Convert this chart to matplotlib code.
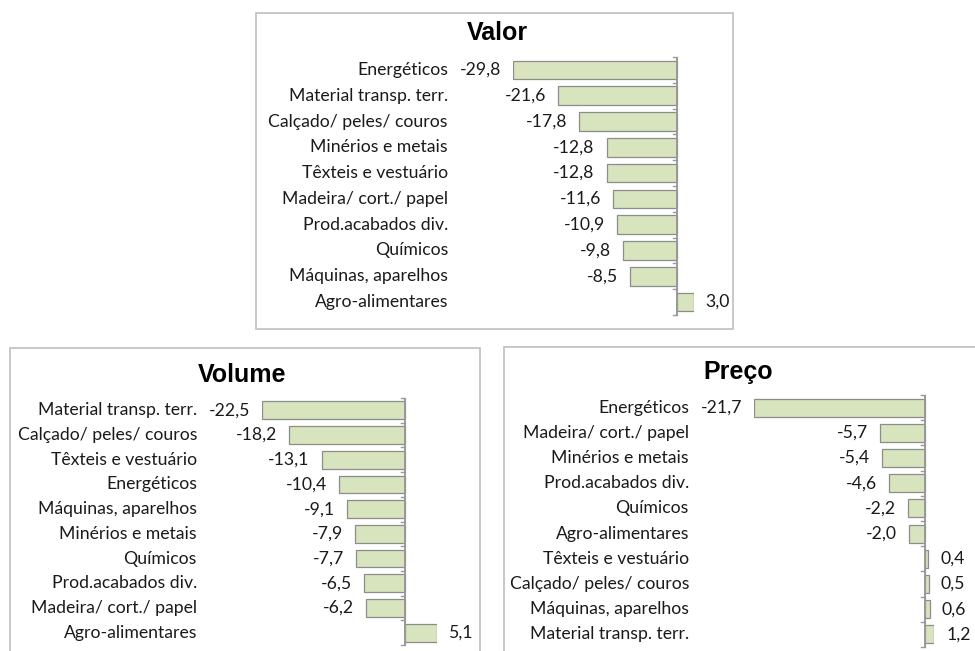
import matplotlib.pyplot as plt
from matplotlib.patches import Rectangle
from matplotlib.transforms import blended_transform_factory

# Valor
valor_cats = ["Energéticos", "Material transp. terr.", "Calçado/ peles/ couros",
              "Minérios e metais", "Têxteis e vestuário", "Madeira/ cort./ papel",
              "Prod.acabados div.", "Químicos", "Máquinas, aparelhos", "Agro-alimentares"]
valor_vals = [-29.8, -21.6, -17.8, -12.8, -12.8, -11.6, -10.9, -9.8, -8.5, 3.0]

# Volume
volume_cats = ["Material transp. terr.", "Calçado/ peles/ couros", "Têxteis e vestuário",
               "Energéticos", "Máquinas, aparelhos", "Minérios e metais", "Químicos",
               "Prod.acabados div.", "Madeira/ cort./ papel", "Agro-alimentares"]
volume_vals = [-22.5, -18.2, -13.1, -10.4, -9.1, -7.9, -7.7, -6.5, -6.2, 5.1]

# Preço
preco_cats = ["Energéticos", "Madeira/ cort./ papel", "Minérios e metais",
              "Prod.acabados div.", "Químicos", "Agro-alimentares", "Têxteis e vestuário",
              "Calçado/ peles/ couros", "Máquinas, aparelhos", "Material transp. terr."]
preco_vals = [-21.7, -5.7, -5.4, -4.6, -2.2, -2.0, 0.4, 0.5, 0.6, 1.2]

W, H = 975, 651
BAR = "#d7e4bd"
EDGE = "#8c8c8c"
BOX = "#bfbfbf"
LABEL_FONT = ["Lato", "DejaVu Sans"]
TITLE_FONT = ["Liberation Sans", "DejaVu Sans"]
FS = 12.7

fig = plt.figure(figsize=(W / 100, H / 100), dpi=100)


def box(x0, y0, x1, y1):
    fig.patches.append(Rectangle((x0 / W, 1 - y1 / H), (x1 - x0) / W, (y1 - y0) / H,
                                 transform=fig.transFigure, fill=False,
                                 edgecolor=BOX, linewidth=1.2))


def panel(cats, vals, title, zero_px, scale, top_px, row_h, label_px, title_xy):
    lo, hi = min(vals), max(vals)
    x0 = zero_px + lo * scale
    x1 = zero_px + hi * scale
    n = len(cats)
    y0 = top_px
    y1 = top_px + n * row_h
    ax = fig.add_axes([x0 / W, 1 - y1 / H, (x1 - x0) / W, (y1 - y0) / H])
    ax.set_xlim(lo, hi)
    ax.set_ylim(n - 0.5, -0.5)
    pos = list(range(n))
    ax.barh(pos, vals, height=0.72, color=BAR, edgecolor=EDGE, linewidth=0.9)
    ax.axvline(0, color="#999999", linewidth=1.4, zorder=3)
    for b in range(n + 1):
        ax.plot([0, -4 / scale], [b - 0.5, b - 0.5], color="#999999",
                linewidth=1.0, clip_on=False, zorder=3)
    for s in ax.spines.values():
        s.set_visible(False)
    ax.set_xticks([])
    ax.set_yticks([])
    ax.patch.set_alpha(0)
    gap = 12 / scale
    for p, v in zip(pos, vals):
        lab = f"{v:.1f}".replace(".", ",")
        if v < 0:
            ax.text(v - gap, p, lab, ha="right", va="center", fontsize=FS,
                    family=LABEL_FONT, color="#1a1a1a")
        else:
            ax.text(v + gap, p, lab, ha="left", va="center", fontsize=FS,
                    family=LABEL_FONT, color="#1a1a1a")
    tr = blended_transform_factory(fig.transFigure, ax.transData)
    for p, c in zip(pos, cats):
        ax.text(label_px / W, p, c, transform=tr, ha="right", va="center",
                fontsize=FS, family=LABEL_FONT, color="#1a1a1a")
    fig.text(title_xy[0] / W, 1 - title_xy[1] / H, title, ha="center", va="center",
             fontsize=18, fontweight="bold", family=TITLE_FONT)


box(256, 13, 733, 329)
box(10, 348, 480, 660)
box(504, 347, 990, 660)

panel(valor_cats, valor_vals, "Valor", 677, 5.5, 57, 25.8, 448, (497, 33))
panel(volume_cats, volume_vals, "Volume", 405, 6.36, 398, 24.7, 197, (242, 375))
panel(preco_cats, preco_vals, "Preço", 925, 7.88, 395, 25.2, 689, (738, 372))

fig.savefig("out.png", dpi=100)
